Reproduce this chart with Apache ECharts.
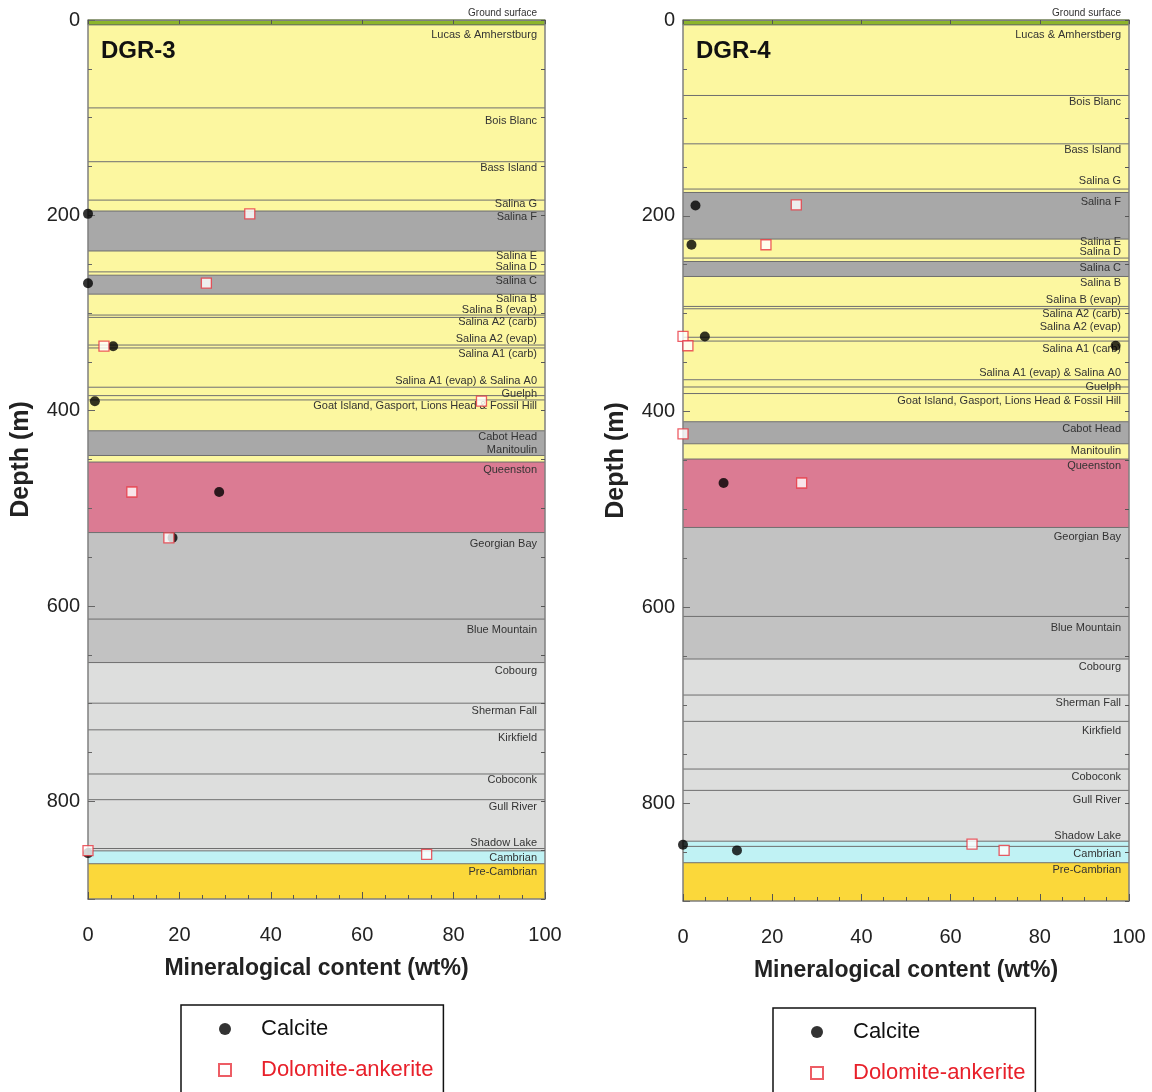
<!DOCTYPE html>
<html>
<head>
<meta charset="utf-8">
<script src="https://cdn.jsdelivr.net/npm/echarts@6/dist/echarts.min.js"></script>
<style>
html,body{margin:0;padding:0;background:#fff;}
#chart{width:1152px;height:1092px;}
</style>
</head>
<body>
<div id="chart"></div>
<script>
// ---------------- DATA ----------------
const xTicks = [0, 20, 40, 60, 80, 100];
const depthTicks = [0, 200, 400, 600, 800];

// DGR-3 formations: name, top depth (m), bottom depth (m), label depth (m), fill key
const dgr3Names = ['Ground surface','Lucas & Amherstburg','Bois Blanc','Bass Island','Salina G','Salina F','Salina E','Salina D','Salina C','Salina B','Salina B (evap)','Salina A2 (carb)','Salina A2 (evap)','Salina A1 (carb)','Salina A1 (evap) & Salina A0','Guelph','Goat Island, Gasport, Lions Head & Fossil Hill','Cabot Head','Manitoulin','Queenston','Georgian Bay','Blue Mountain','Cobourg','Sherman Fall','Kirkfield','Coboconk','Gull River','Shadow Lake','Cambrian','Pre-Cambrian'];
const dgr3Tops    = [0, 5, 90, 145.1, 184.4, 195.6, 236.5, 257.9, 261.3, 280.7, 302.1, 304.5, 332.8, 335.8, 376, 384.6, 389, 420.6, 445.9, 452.6, 524.8, 613.4, 657.9, 699.5, 726.8, 772, 798.3, 848.3, 850.7, 863.9];
const dgr3Bottoms = [5, 90, 145.1, 184.4, 195.6, 236.5, 257.9, 261.3, 280.7, 302.1, 304.5, 332.8, 335.8, 376, 384.6, 389, 420.6, 445.9, 452.6, 524.8, 613.4, 657.9, 699.5, 726.8, 772, 798.3, 848.3, 850.7, 863.9, 900];
const dgr3LabelDepths = [-7.4, 15.1, 102.9, 152, 188.8, 202.1, 241.9, 253.1, 267.4, 285.8, 297, 309.3, 326.7, 342, 369.6, 382.8, 395, 426.8, 440, 460.5, 536, 624.9, 666.8, 707.7, 735.2, 778.2, 805.7, 842.5, 857.8, 872.1];
const dgr3Fills = ['GR','Y','Y','Y','Y','DG','Y','Y','DG','Y','Y','Y','Y','Y','Y','Y','Y','DG','Y','P','MG','MG','LG','LG','LG','LG','LG','LG','C','G'];

// DGR-4 formations
const dgr4Names = ['Ground surface','Lucas & Amherstberg','Bois Blanc','Bass Island','Salina G','Salina F','Salina E','Salina D','Salina C','Salina B','Salina B (evap)','Salina A2 (carb)','Salina A2 (evap)','Salina A1 (carb)','Salina A1 (evap) & Salina A0','Guelph','Goat Island, Gasport, Lions Head & Fossil Hill','Cabot Head','Manitoulin','Queenston','Georgian Bay','Blue Mountain','Cobourg','Sherman Fall','Kirkfield','Coboconk','Gull River','Shadow Lake','Cambrian','Pre-Cambrian'];
const dgr4Tops    = [0, 5, 77.1, 126.5, 172.7, 176.2, 223.8, 243.2, 246.7, 262, 292.6, 295, 324.1, 328, 367.5, 374.9, 381.6, 410.4, 432.9, 448.5, 518.4, 609.3, 652.8, 689.6, 716.5, 765.2, 787, 838.9, 844.2, 860.9];
const dgr4Bottoms = [5, 77.1, 126.5, 172.7, 176.2, 223.8, 243.2, 246.7, 262, 292.6, 295, 324.1, 328, 367.5, 374.9, 381.6, 410.4, 432.9, 448.5, 518.4, 609.3, 652.8, 689.6, 716.5, 765.2, 787, 838.9, 844.2, 860.9, 900];
const dgr4LabelDepths = [-7.4, 15.1, 83.6, 132.6, 164.3, 185.7, 226.6, 236.8, 253.1, 268.5, 285.8, 300.1, 313.4, 335.8, 360.4, 374.7, 389, 417.6, 440, 455.3, 527.8, 620.8, 660.6, 697.5, 726.1, 773.1, 796.5, 833.3, 851.7, 868];
const dgr4Fills = ['GR','Y','Y','Y','Y','DG','Y','Y','DG','Y','Y','Y','Y','Y','Y','Y','Y','DG','Y','P','MG','MG','LG','LG','LG','LG','LG','C','C','G'];

// Mineral content samples: [wt%, depth m]
const dgr3CalciteWt    = [0, 0, 5.5, 1.5, 28.7, 18.5, 0];
const dgr3CalciteDepth = [198.5, 269.5, 334, 390.3, 483.3, 530.2, 853];
const dgr3DolomiteWt    = [35.4, 25.9, 3.5, 86.1, 9.6, 17.7, 0, 74.1];
const dgr3DolomiteDepth = [198.5, 269.5, 334, 390.3, 483.3, 530.2, 850.4, 854.4];

const dgr4CalciteWt    = [2.8, 1.9, 4.9, 97.0, 9.1, 0, 12.1];
const dgr4CalciteDepth = [189.5, 229.6, 323.3, 332.8, 473, 842.5, 848.3];
const dgr4DolomiteWt    = [25.4, 18.6, 0, 1.1, 0, 26.6, 64.8, 72.0];
const dgr4DolomiteDepth = [188.8, 229.6, 323.3, 332.8, 422.7, 473, 841.8, 848.3];

// ---------------- STYLE ----------------
const palette = {GR:'#8db52b', Y:'#fcf7a0', DG:'#a8a8a8', P:'#db7b93', MG:'#c2c2c2', LG:'#dddedd', C:'#c0f2f4', G:'#fbd83a'};
const FONT = '"Liberation Sans", Arial, sans-serif';
const SQUARE = 'path://M0,0L10,0L10,10L0,10Z';

function pairs(xs, ys){ return xs.map((v,i)=>[v, ys[i]]); }
function layerData(tops, bottoms, labs){ return tops.map((t,i)=>[0, t, bottoms[i], labs[i]]); }

function makeRender(names, fills){
  return function(params, api){
    const i = params.dataIndex;
    const top = api.value(1), bot = api.value(2), lab = api.value(3);
    const p0 = api.coord([0, top]);
    const p1 = api.coord([100, bot]);
    const pl = api.coord([100, lab]);
    const isGround = i === 0;
    return {
      type:'group',
      children:[
        {type:'rect', shape:{x:p0[0], y:p0[1], width:p1[0]-p0[0], height:p1[1]-p0[1]},
         style:{fill: palette[fills[i]], stroke: isGround ? '#6f9a1c' : null, lineWidth: isGround ? 1 : 0}},
        {type:'line', shape:{x1:p0[0], y1:p0[1], x2:p1[0], y2:p0[1]},
         style:{stroke:'#6e6e6e', lineWidth:1}, z2:1},
        {type:'text', z2:10,
         style:{text:names[i], x:pl[0]-8, y:pl[1], align:'right', verticalAlign:'middle',
                font: (isGround ? '10px ' : '11px ') + FONT, fill:'#333'}}
      ]
    };
  };
}

function xAxes(gi, name){
  return [
    {gridIndex:gi, type:'value', min:0, max:100, interval:20, position:'bottom', z:10,
     axisLine:{show:true, onZero:false, lineStyle:{color:'#7f7f7f', width:1.5}},
     axisTick:{show:true, inside:true, length:7, lineStyle:{color:'#555'}},
     minorTick:{show:true, splitNumber:4, length:4, lineStyle:{color:'#555'}},
     splitLine:{show:false},
     axisLabel:{fontSize:20, color:'#222', margin:26, fontFamily:FONT,
                formatter:v=> xTicks.indexOf(v) >= 0 ? String(v) : ''},
     name:name, nameLocation:'middle', nameGap:58,
     nameTextStyle:{fontSize:23, fontWeight:'bold', color:'#222', fontFamily:FONT}},
    {gridIndex:gi, type:'value', min:0, max:100, interval:20, position:'top', z:10,
     axisLine:{show:true, onZero:false, lineStyle:{color:'#7f7f7f'}},
     axisTick:{show:true, inside:true, length:4, lineStyle:{color:'#555'}},
     splitLine:{show:false}, axisLabel:{show:false}}
  ];
}
function yAxes(gi){
  return [
    {gridIndex:gi, type:'value', inverse:true, min:0, max:900, interval:200, position:'left', z:10,
     axisLine:{show:true, onZero:false, lineStyle:{color:'#7f7f7f', width:1.5}},
     axisTick:{show:true, inside:true, length:7, lineStyle:{color:'#666'}},
     minorTick:{show:true, splitNumber:4, length:4, lineStyle:{color:'#666'}},
     splitLine:{show:false},
     axisLabel:{fontSize:20, color:'#222', margin:8, fontFamily:FONT, showMaxLabel:false,
                formatter:v=> depthTicks.indexOf(v) >= 0 ? String(v) : ''},
     name:'Depth (m)', nameLocation:'middle', nameGap:54,
     nameTextStyle:{fontSize:25, fontWeight:'bold', color:'#222', fontFamily:FONT}},
    {gridIndex:gi, type:'value', inverse:true, min:0, max:900, interval:50, position:'right', z:10,
     axisLine:{show:true, onZero:false, lineStyle:{color:'#7f7f7f', width:1.5}},
     axisTick:{show:true, inside:true, length:4, lineStyle:{color:'#555'}},
     splitLine:{show:false}, axisLabel:{show:false}}
  ];
}

const calciteStyle = {symbol:'circle', symbolSize:10, itemStyle:{color:'#000'}};
const dolomiteStyle = {symbol:'rect', symbolSize:10, itemStyle:{color:'#fff', borderColor:'#e8353f', borderWidth:1.3}};

function legendFor(left, top){
  return {
    left:left, top:top, height:200, orient:'vertical', selectedMode:false,
    borderColor:'#111', borderWidth:1.5, backgroundColor:'#fff',
    padding:[11, 10, 30, 37], itemGap:15, itemWidth:12, itemHeight:12,
    textStyle:{fontSize:22, fontFamily:FONT, lineHeight:26, padding:[0, 0, 0, 25]},
    data:[{name:'Calcite', icon:'circle', textStyle:{color:'#111'}},
          {name:'Dolomite-ankerite', icon:SQUARE, textStyle:{color:'#e8202a'}}]
  };
}

const chart = echarts.init(document.getElementById('chart'), null, {renderer:'canvas'});
chart.setOption({
  animation:false,
  backgroundColor:'#fff',
  title:[
    {text:'DGR-3', left:96, top:34, textStyle:{fontSize:24, fontWeight:'bold', color:'#111', fontFamily:FONT}},
    {text:'DGR-4', left:691, top:34, textStyle:{fontSize:24, fontWeight:'bold', color:'#111', fontFamily:FONT}}
  ],
  legend:[legendFor(181, 1005), legendFor(773, 1008)],
  grid:[
    {left:88, top:20, width:457, height:879},
    {left:683, top:20, width:446, height:881}
  ],
  xAxis:[...xAxes(0, 'Mineralogical content (wt%)'), ...xAxes(1, 'Mineralogical content (wt%)')],
  yAxis:[...yAxes(0), ...yAxes(1)],
  series:[
    {type:'custom', name:'DGR-3 formations', xAxisIndex:0, yAxisIndex:0, clip:false, silent:true, z:1,
     renderItem:makeRender(dgr3Names, dgr3Fills), encode:{x:0, y:[1,2,3]},
     data:layerData(dgr3Tops, dgr3Bottoms, dgr3LabelDepths)},
    {type:'custom', name:'DGR-4 formations', xAxisIndex:2, yAxisIndex:2, clip:false, silent:true, z:1,
     renderItem:makeRender(dgr4Names, dgr4Fills), encode:{x:0, y:[1,2,3]},
     data:layerData(dgr4Tops, dgr4Bottoms, dgr4LabelDepths)},
    Object.assign({type:'scatter', name:'Calcite', xAxisIndex:0, yAxisIndex:0, clip:false, z:15,
     data:pairs(dgr3CalciteWt, dgr3CalciteDepth)}, calciteStyle),
    Object.assign({type:'scatter', name:'Dolomite-ankerite', xAxisIndex:0, yAxisIndex:0, clip:false, z:16,
     data:pairs(dgr3DolomiteWt, dgr3DolomiteDepth)}, dolomiteStyle),
    Object.assign({type:'scatter', name:'Calcite', xAxisIndex:2, yAxisIndex:2, clip:false, z:15,
     data:pairs(dgr4CalciteWt, dgr4CalciteDepth)}, calciteStyle),
    Object.assign({type:'scatter', name:'Dolomite-ankerite', xAxisIndex:2, yAxisIndex:2, clip:false, z:16,
     data:pairs(dgr4DolomiteWt, dgr4DolomiteDepth)}, dolomiteStyle)
  ]
});
</script>
</body>
</html>
